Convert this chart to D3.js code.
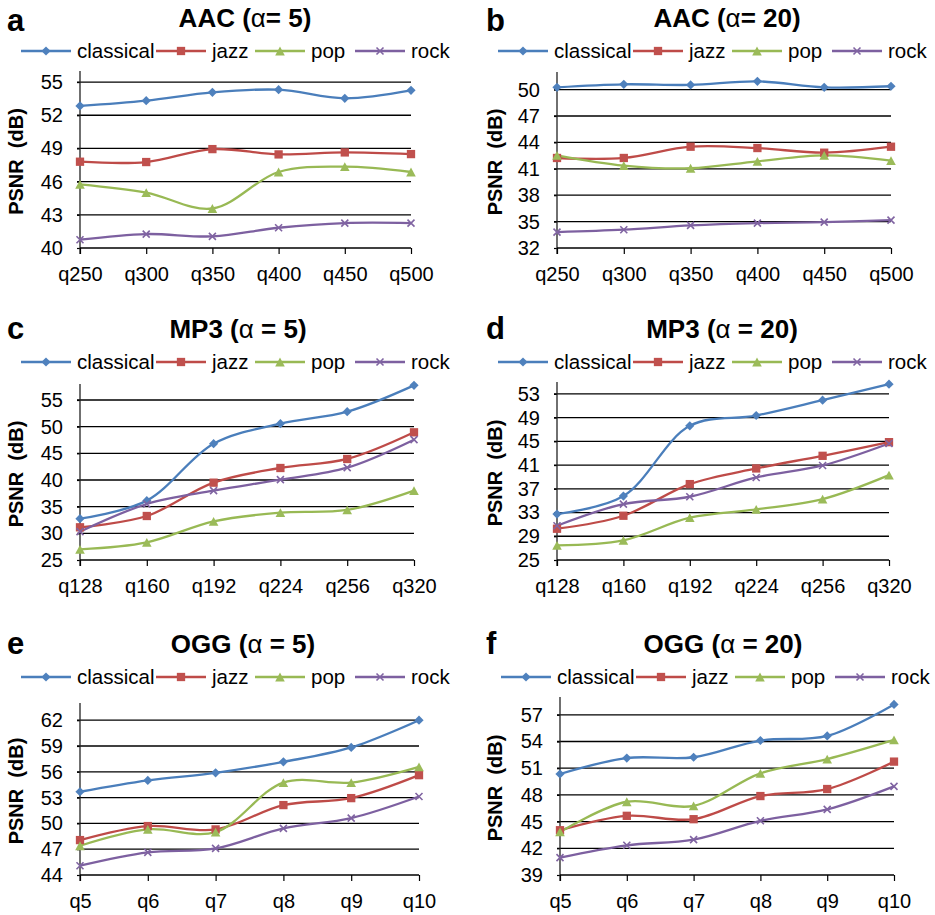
<!DOCTYPE html>
<html><head><meta charset="utf-8">
<script src="https://cdn.jsdelivr.net/npm/d3@7"></script>
<style>
body{margin:0;background:#fff}
text{font-family:"Liberation Sans",Arial,Helvetica,sans-serif;fill:#000}
</style>
</head><body>
<svg id="chart" width="935" height="915"></svg>
<script>
// ---------------- DATA ----------------
const genres = ["classical", "jazz", "pop", "rock"];
const aacCategories = ["q250", "q300", "q350", "q400", "q450", "q500"];
const mp3Categories = ["q128", "q160", "q192", "q224", "q256", "q320"];
const oggCategories = ["q5", "q6", "q7", "q8", "q9", "q10"];

const aac5Ticks = [40, 43, 46, 49, 52, 55];
const aac20Ticks = [32, 35, 38, 41, 44, 47, 50];
const mp35Ticks = [25, 30, 35, 40, 45, 50, 55];
const mp320Ticks = [25, 29, 33, 37, 41, 45, 49, 53];
const ogg5Ticks = [44, 47, 50, 53, 56, 59, 62];
const ogg20Ticks = [39, 42, 45, 48, 51, 54, 57];

// (a) AAC alpha=5
const aac5Classical = [52.84, 53.32, 54.07, 54.31, 53.53, 54.25];
const aac5Jazz      = [47.80, 47.77, 48.94, 48.46, 48.64, 48.49];
const aac5Pop       = [45.76, 45.01, 43.57, 46.87, 47.35, 46.87];
const aac5Rock      = [40.75, 41.26, 41.05, 41.83, 42.25, 42.25];
// (b) AAC alpha=20
const aac20Classical = [50.26, 50.60, 50.53, 50.94, 50.26, 50.38];
const aac20Jazz      = [42.23, 42.23, 43.51, 43.36, 42.83, 43.51];
const aac20Pop       = [42.53, 41.36, 41.06, 41.85, 42.53, 41.92];
const aac20Rock      = [33.81, 34.08, 34.57, 34.83, 34.94, 35.17];
// (c) MP3 alpha=5
const mp35Classical = [32.75, 36.13, 46.81, 50.56, 52.81, 57.75];
const mp35Jazz      = [31.13, 33.25, 39.50, 42.25, 43.94, 48.94];
const mp35Pop       = [27.00, 28.31, 32.25, 33.88, 34.38, 38.00];
const mp35Rock      = [30.31, 35.50, 38.00, 40.06, 42.31, 47.56];
// (d) MP3 alpha=20
const mp320Classical = [32.74, 35.77, 47.61, 49.35, 51.93, 54.63];
const mp320Jazz      = [30.27, 32.46, 37.79, 40.43, 42.56, 44.86];
const mp320Pop       = [27.47, 28.31, 32.13, 33.53, 35.27, 39.31];
const mp320Rock      = [30.78, 34.42, 35.66, 38.91, 40.93, 44.64];
// (e) OGG alpha=5
const ogg5Classical = [53.68, 55.00, 55.88, 57.16, 58.83, 62.00];
const ogg5Jazz      = [48.06, 49.69, 49.30, 52.13, 52.94, 55.61];
const ogg5Pop       = [47.40, 49.30, 48.99, 54.75, 54.75, 56.58];
const ogg5Rock      = [45.08, 46.63, 47.09, 49.42, 50.62, 53.13];
// (f) OGG alpha=20
const ogg20Classical = [50.35, 52.14, 52.23, 54.11, 54.63, 58.17];
const ogg20Jazz      = [44.03, 45.65, 45.27, 47.87, 48.66, 51.74];
const ogg20Pop       = [43.84, 47.23, 46.77, 50.42, 52.03, 54.18];
const ogg20Rock      = [40.95, 42.34, 42.98, 45.09, 46.37, 48.96];

const panelLetters = ["a", "b", "c", "d", "e", "f"];
const panelTitlePre = ["AAC (", "AAC (", "MP3 (", "MP3 (", "OGG (", "OGG ("];
const panelTitlePost = ["= 5)", "= 20)", " = 5)", " = 20)", " = 5)", " = 20)"];
const yAxisLabel = "PSNR  (dB)";

// ---------------- LAYOUT / STYLE ----------------
const lineColors = ["#4A7EBB", "#BE4B48", "#98B954", "#7D60A0"];
const markerColors = ["#4F81BD", "#C0504D", "#9BBB59", "#8064A2"];

const panels = [
  {cats: aacCategories, ticks: aac5Ticks, series: [aac5Classical, aac5Jazz, aac5Pop, aac5Rock],
   domain: [40, 56], x0: 80, x1: 411, top: 71, bottom: 248, col: 0, row: 0, titleX: 245},
  {cats: aacCategories, ticks: aac20Ticks, series: [aac20Classical, aac20Jazz, aac20Pop, aac20Rock],
   domain: [32, 52], x0: 557, x1: 891, top: 72, bottom: 248, col: 1, row: 0, titleX: 727},
  {cats: mp3Categories, ticks: mp35Ticks, series: [mp35Classical, mp35Jazz, mp35Pop, mp35Rock],
   domain: [25, 58], x0: 80, x1: 414, top: 384, bottom: 560, col: 0, row: 1, titleX: 238},
  {cats: mp3Categories, ticks: mp320Ticks, series: [mp320Classical, mp320Jazz, mp320Pop, mp320Rock],
   domain: [25, 55], x0: 557, x1: 889, top: 382, bottom: 560, col: 1, row: 1, titleX: 722},
  {cats: oggCategories, ticks: ogg5Ticks, series: [ogg5Classical, ogg5Jazz, ogg5Pop, ogg5Rock],
   domain: [44, 64], x0: 80, x1: 419, top: 703, bottom: 875, col: 0, row: 2, titleX: 243},
  {cats: oggCategories, ticks: ogg20Ticks, series: [ogg20Classical, ogg20Jazz, ogg20Pop, ogg20Rock],
   domain: [39, 59], x0: 560, x1: 894, top: 697, bottom: 875, col: 1, row: 2, titleX: 723}
];
const rowTitleBase = [27, 338, 653];
const rowLetterBase = [31, 339, 654];
const rowLegendY = [51, 362, 677];
const colLetterX = [7, 486];
const colYLabelX = [23, 502];
const legendOffsets = [-59, 76, 175, 275];

const svg = d3.select("#chart");

function marker(g, i, x, y) {
  const c = markerColors[i];
  if (i === 0) {
    const r = 4.6;
    g.append("path").attr("d", `M${x},${y - r}L${x + r},${y}L${x},${y + r}L${x - r},${y}Z`).attr("fill", c);
  } else if (i === 1) {
    const s = 8.3;
    g.append("rect").attr("x", x - s / 2).attr("y", y - s / 2).attr("width", s).attr("height", s).attr("fill", c);
  } else if (i === 2) {
    const w = 4.8, h = 4.4;
    g.append("path").attr("d", `M${x},${y - h}L${x + w},${y + h}L${x - w},${y + h}Z`).attr("fill", c);
  } else {
    const a = 3.5;
    g.append("path").attr("d", `M${x - a},${y - a}L${x + a},${y + a}M${x - a},${y + a}L${x + a},${y - a}`)
      .attr("stroke", c).attr("stroke-width", 1.6).attr("fill", "none");
  }
}

panels.forEach((p, pi) => {
  const g = svg.append("g");
  const x = d3.scalePoint().domain(p.cats).range([p.x0, p.x1]);
  const y = d3.scaleLinear().domain(p.domain).range([p.bottom, p.top]);

  // gridlines
  g.selectAll("line.grid").data(p.ticks.slice(1)).enter().append("line")
    .attr("x1", p.x0 - 3).attr("x2", p.x1)
    .attr("y1", d => y(d)).attr("y2", d => y(d))
    .attr("stroke", "#000").attr("stroke-width", 1.3);

  // y axis
  const ya = d3.axisLeft(y).tickValues(p.ticks).tickSize(3).tickPadding(14).tickFormat(d3.format("d"));
  const yg = g.append("g").attr("transform", `translate(${p.x0},0)`).call(ya);
  yg.select(".domain").remove();
  yg.selectAll(".tick line").attr("stroke", "#000").attr("stroke-width", 1.2);
  yg.selectAll(".tick text").style("font-size", "20px").style("font-family", '"Liberation Sans",Arial,sans-serif').attr("fill", "#000");
  g.append("line").attr("x1", p.x0).attr("x2", p.x0).attr("y1", p.top).attr("y2", p.bottom + 6)
    .attr("stroke", "#222").attr("stroke-width", 1.3);

  // x axis
  const xa = d3.axisBottom(x).tickSize(6).tickPadding(13);
  const xg = g.append("g").attr("transform", `translate(0,${p.bottom})`).call(xa);
  xg.select(".domain").remove();
  xg.selectAll(".tick line").attr("stroke", "#000").attr("stroke-width", 1.2);
  xg.selectAll(".tick text").style("font-size", "20px").style("font-family", '"Liberation Sans",Arial,sans-serif').attr("fill", "#000");
  g.append("line").attr("x1", p.x0).attr("x2", p.x1).attr("y1", p.bottom).attr("y2", p.bottom)
    .attr("stroke", "#000").attr("stroke-width", 1.3);

  // series
  const line = d3.line().x((d, i) => x(p.cats[i])).y(d => y(d)).curve(d3.curveCatmullRom.alpha(0.5));
  p.series.forEach((s, si) => {
    g.append("path").attr("d", line(s)).attr("fill", "none")
      .attr("stroke", lineColors[si]).attr("stroke-width", 2.3);
  });
  p.series.forEach((s, si) => {
    s.forEach((v, i) => marker(g, si, x(p.cats[i]), y(v)));
  });

  // title
  const t = g.append("text").attr("x", p.titleX).attr("y", rowTitleBase[p.row])
    .attr("text-anchor", "middle").style("font-size", "26px").style("font-weight", "bold");
  t.append("tspan").text(panelTitlePre[pi]);
  t.append("tspan").style("font-weight", "normal").text("α");
  t.append("tspan").text(panelTitlePost[pi]);

  // panel letter
  g.append("text").attr("x", colLetterX[p.col]).attr("y", rowLetterBase[p.row])
    .style("font-size", "31px").style("font-weight", "bold").text(panelLetters[pi]);

  // y label
  const cy = (p.top + p.bottom) / 2 + 2;
  g.append("text").attr("transform", `translate(${colYLabelX[p.col]},${cy}) rotate(-90)`)
    .attr("text-anchor", "middle").style("font-size", "20px").style("font-weight", "bold")
    .style("white-space", "pre").attr("xml:space", "preserve").text(yAxisLabel);

  // legend
  const ly = rowLegendY[p.row];
  genres.forEach((name, si) => {
    const lx = p.x0 + legendOffsets[si];
    g.append("line").attr("x1", lx).attr("x2", lx + 50).attr("y1", ly).attr("y2", ly)
      .attr("stroke", lineColors[si]).attr("stroke-width", 2.3);
    marker(g, si, lx + 25, ly);
    g.append("text").attr("x", lx + 56).attr("y", ly + 7).style("font-size", "20.5px").text(name);
  });
});
</script>
</body></html>
